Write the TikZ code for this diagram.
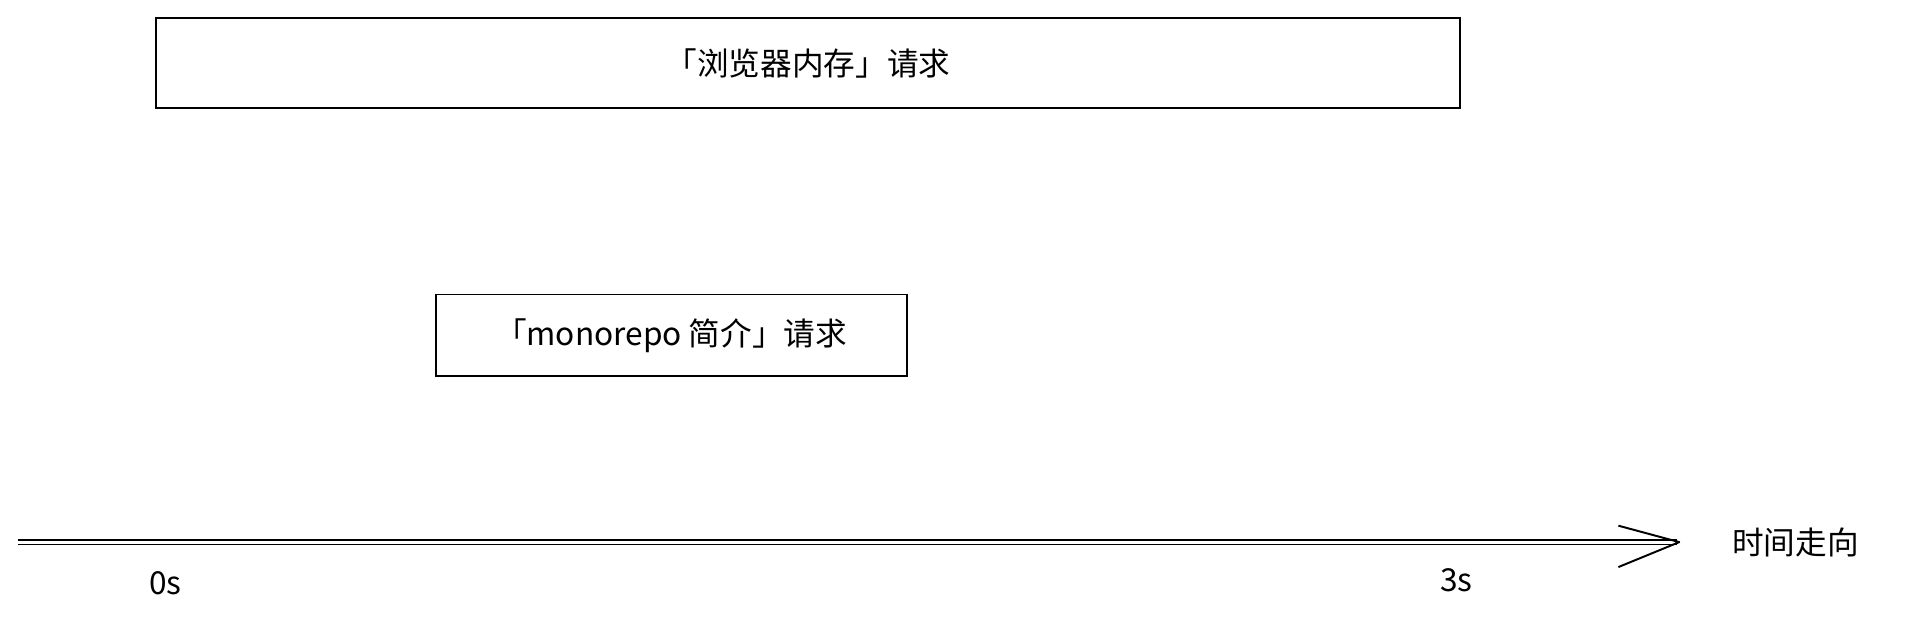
\documentclass[tikz,border=0pt]{standalone}
\usepackage{fontspec}
\setmainfont{Noto Sans CJK SC}
\begin{document}
\begin{tikzpicture}[x=1pt,y=-1pt,
  bx/.style={draw,line width=1.6pt},
  lbl/.style={font=\fontsize{26}{30}\selectfont}]
\useasboundingbox[fill=white] (0,0) rectangle (1568,525);
\node[bx,minimum width=1072pt,minimum height=74pt,lbl] (b1) at (664,52) {「浏览器内存」请求};
\node[bx,minimum width=387pt,minimum height=67pt,lbl] (b2) at (551.5,275.5) {「monorepo 简介」请求};
\coordinate (s) at (15,445.5);
\coordinate (e) at (1380,445.5);
\draw[line width=1.3pt] (15,444) -- (1378,444);
\draw[line width=1.3pt] (15,447.5) -- (1378,447.5);
\draw[line width=1.6pt,line join=round] (1330,432) -- (e) -- (1330,466);
\node[lbl] (t0) at (136,479) {0s};
\node[lbl] (t3) at (1197,477) {3s};
\node[lbl,anchor=west] (dir) at (1420,446) {时间走向};
\end{tikzpicture}
\end{document}
